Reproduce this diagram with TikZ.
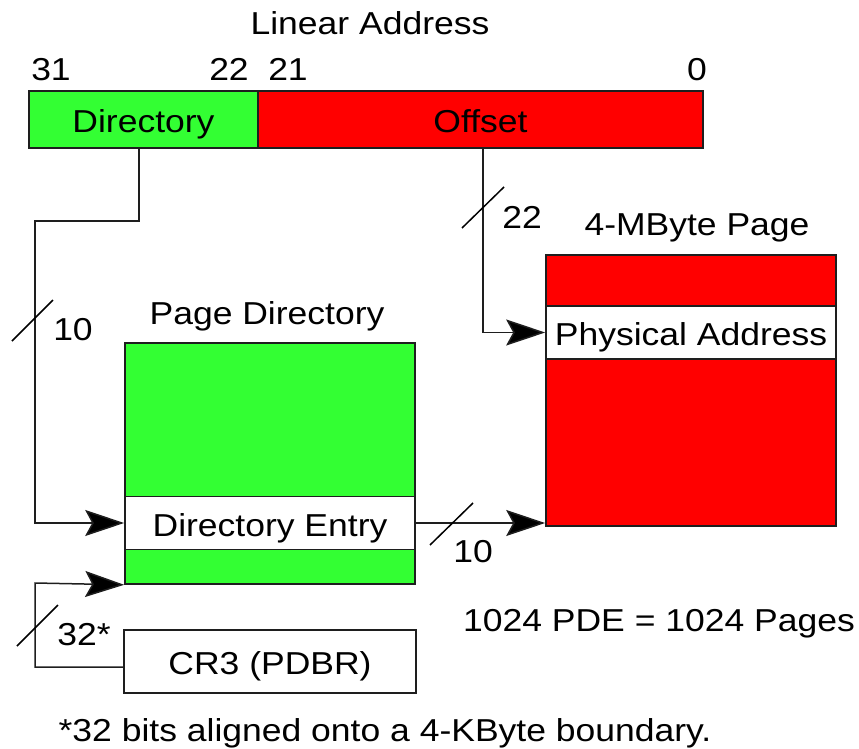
\documentclass[tikz,border=0pt]{standalone}
\usepackage{fontspec}
\setmainfont{Liberation Sans}[FakeStretch=1.12]
\usetikzlibrary{arrows.meta,calc}
\definecolor{dirgreen}{RGB}{51,255,51}
\definecolor{pagered}{RGB}{255,0,0}
\definecolor{edge}{RGB}{30,30,30}
\begin{document}
\begin{tikzpicture}[x=1pt,y=-1pt,
  font=\fontsize{31.7}{38}\selectfont,
  box/.style={draw=edge, line width=1.6pt, inner sep=0pt, text height=26pt, text depth=0pt},
  wire/.style={draw=edge, line width=1.5pt},
  arr/.style={wire, -{Stealth[length=39pt,width=26pt,inset=7pt,fill=black]}},
  slash/.style={draw=black, line width=1.5pt},
  lbl/.style={anchor=base, inner sep=0pt}]
\useasboundingbox (0,0) rectangle (859,749);

% linear address fields
\node[box, fill=dirgreen, minimum width=229pt, minimum height=57pt] (dirf) at (143.5,119.5) {Directory};
\node[box, fill=pagered, minimum width=445pt, minimum height=57pt] (offf) at (480.5,119.5) {Offset};
\node[lbl] (la)  at (370,35) {Linear Address};
\node[lbl] (b31) at (51,81)  {31};
\node[lbl] (b22) at (229,81) {22};
\node[lbl] (b21) at (288,81) {21};
\node[lbl] (b0)  at (697,81) {0};

% page directory
\node[box, fill=dirgreen, minimum width=290pt, minimum height=241pt] (pd) at (270,463.5) {};
\node[box, fill=white, minimum width=290pt, minimum height=53pt] (entry) at (270,523) {Directory Entry};
\node[lbl] (pdl) at (267,324) {Page Directory};

% CR3 register
\node[box, minimum width=292pt, minimum height=63pt] (cr3) at (270,661.5) {CR3 (PDBR)};

% 4-MByte page
\node[box, fill=pagered, minimum width=290pt, minimum height=271pt] (page) at (691,390.5) {};
\node[box, fill=white, minimum width=290pt, minimum height=53pt] (phys) at (691,332.5) {Physical Address};
\node[lbl] (pgl) at (697,235) {4-MByte Page};

% bend points
\coordinate (bendA) at (35,221);
\coordinate (bendB) at (35,583);

% connectors
\draw[arr] ([xshift=-4.5pt]dirf.south) |- (bendA) |- (entry.west);
\draw[arr] ([xshift=2.5pt]offf.south) |- (phys.west);
\draw[arr] (entry.east) -- (entry.east -| page.west);
\draw[arr] ([yshift=-5.5pt]cr3.west) -| (bendB) -- (pd.south west);

% bus-width ticks
\draw[slash] (12,341) -- (53,300);
\draw[slash] (462,228) -- (504,187);
\draw[slash] (430,545) -- (473,503);
\draw[slash] (17,646) -- (58,605);
\node[lbl] (w10a) at (73,340)  {10};
\node[lbl] (w22)  at (522,228) {22};
\node[lbl] (w10b) at (473,562) {10};
\node[lbl] (w32)  at (84,645)  {32*};

% notes
\node[lbl] (pde)  at (659,631) {1024 PDE = 1024 Pages};
\node[lbl] (note) at (385,741) {*32 bits aligned onto a 4-KByte boundary.};
\end{tikzpicture}
\end{document}
